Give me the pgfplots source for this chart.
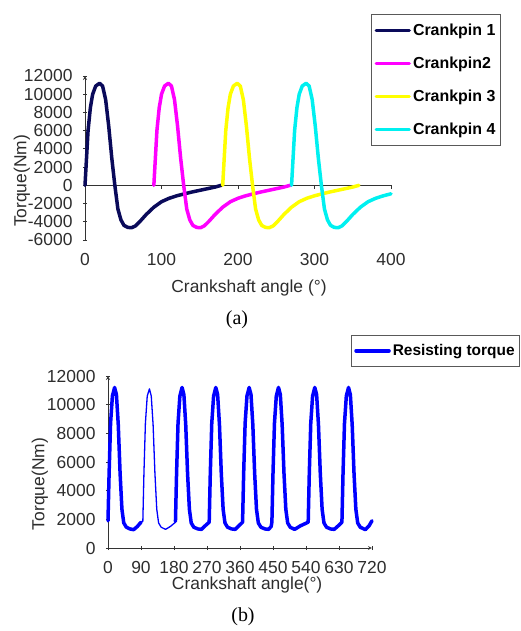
\documentclass[border=0pt]{standalone}
\usepackage{pgfplots}
\pgfplotsset{compat=1.18}
\usepackage{fontspec}
\setmainfont{Liberation Sans}
\newfontfamily\capfont{Liberation Serif}

\definecolor{cpnavy}{RGB}{10,10,90}
\definecolor{cpmag}{RGB}{255,0,255}
\definecolor{cpyel}{RGB}{255,255,0}
\definecolor{cpcyan}{RGB}{0,240,240}
\definecolor{rtblue}{RGB}{0,0,255}
\definecolor{txt}{RGB}{45,45,45}

\pgfplotsset{
  chartbase/.style={
    scale only axis,
    anchor=south west,
    scaled ticks=false,
    /pgf/number format/assume math mode=true,
    /pgf/number format/fixed,
    /pgf/number format/1000 sep={},
    tick label style={font=\fontsize{17.5}{17.5}\selectfont, text=txt},
    yticklabel style={xshift=-7bp},
    xticklabel style={yshift=-8bp},
    label style={font=\fontsize{17.5}{17.5}\selectfont, text=txt},
    axis line style={-, draw=black!80, line width=0.8bp},
    tick style={draw=black!80, line width=0.8bp},
    major tick length=4bp,
    tick align=outside,
    clip=false,
    legend cell align=left,
    legend image code/.code={\draw[#1, line width=3.5bp] (0bp,0bp) -- (33bp,0bp);},
  },
  every axis plot/.append style={line join=round, line cap=round},
}

\begin{document}
\begin{tikzpicture}
\path[use as bounding box] (0,0) rectangle (521bp,631bp);

% ---- (a) torque of each crankpin
\begin{axis}[chartbase,
  at={(85bp,391bp)}, width=306bp, height=164bp,
  xmin=0, xmax=400, ymin=-6000, ymax=12000,
  axis y line=left, axis x line=bottom,
  x axis line style={draw=none}, xtick style={draw=none},
  xtick={0,100,200,300,400},
  ytick={-6000,-4000,-2000,0,2000,4000,6000,8000,10000,12000},
  xlabel={Crankshaft angle (°)}, ylabel={Torque(Nm)},
  xlabel style={at={(axis description cs:0.536,-0.293)}, anchor=center},
  ylabel style={at={(axis description cs:-0.206,0.36)}, anchor=center},
  legend style={at={(0.935,1.375)}, anchor=north west, draw=black!65,
    line width=0.8bp, font=\fontsize{16}{16}\selectfont\bfseries,
    text=black, inner xsep=3bp, inner ysep=7bp, row sep=16bp},
]
\draw[black!80, line width=0.8bp] (axis cs:0,0) -- (axis cs:400,0);
\draw[black!80, line width=0.8bp] (axis cs:100,0) -- (axis cs:100,-450);
\draw[black!80, line width=0.8bp] (axis cs:200,0) -- (axis cs:200,-450);
\draw[black!80, line width=0.8bp] (axis cs:300,0) -- (axis cs:300,-450);
\draw[black!80, line width=0.8bp] (axis cs:400,0) -- (axis cs:400,-450);
\addplot[cpnavy, line width=3.5bp] coordinates {
  (0,0) (2,3000) (4,6000) (7,8500) (10,10000) (14,10900) (19,11200)
  (23,10900) (27,9400) (31,6500) (35,3000) (39,0) (43,-2600) (47,-3800)
  (51,-4400) (56,-4620) (61,-4650) (66,-4450) (72,-3950) (80,-3200)
  (90,-2400) (100,-1800) (110,-1420) (120,-1150) (130,-930) (140,-730)
  (150,-550) (160,-370) (170,-190) (178,0)
};
\addlegendentry{Crankpin 1}
\addplot[cpmag, line width=3.5bp] coordinates {
  (90,0) (92,3000) (94,6000) (97,8500) (100,10000) (104,10900) (109,11200)
  (113,10900) (117,9400) (121,6500) (125,3000) (129,0) (133,-2600) (137,-3800)
  (141,-4400) (146,-4620) (151,-4650) (156,-4450) (162,-3950) (170,-3200)
  (180,-2400) (190,-1800) (200,-1420) (210,-1150) (220,-930) (230,-730)
  (240,-550) (250,-370) (260,-190) (268,0)
};
\addlegendentry{Crankpin2}
\addplot[cpyel, line width=3.5bp] coordinates {
  (180,0) (182,3000) (184,6000) (187,8500) (190,10000) (194,10900) (199,11200)
  (203,10900) (207,9400) (211,6500) (215,3000) (219,0) (223,-2600) (227,-3800)
  (231,-4400) (236,-4620) (241,-4650) (246,-4450) (252,-3950) (260,-3200)
  (270,-2400) (280,-1800) (290,-1420) (300,-1150) (310,-930) (320,-730)
  (330,-550) (340,-370) (350,-190) (358,0)
};
\addlegendentry{Crankpin 3}
\addplot[cpcyan, line width=3.5bp] coordinates {
  (270,0) (272,3000) (274,6000) (277,8500) (280,10000) (284,10900) (289,11200)
  (293,10900) (297,9400) (301,6500) (305,3000) (309,0) (313,-2600) (317,-3800)
  (321,-4400) (326,-4620) (331,-4650) (336,-4450) (342,-3950) (350,-3200)
  (360,-2400) (370,-1800) (380,-1420) (390,-1150) (400,-930)
};
\addlegendentry{Crankpin 4}
\end{axis}

% ---- (b) resisting torque
\begin{axis}[chartbase,
  at={(108bp,83bp)}, width=264bp, height=172bp,
  xmin=0, xmax=720, ymin=0, ymax=12000,
  axis lines=left,
  xtick={0,90,180,270,360,450,540,630,720},
  ytick={0,2000,4000,6000,8000,10000,12000},
  xlabel={Crankshaft angle(°)}, ylabel={Torque(Nm)},
  xlabel style={at={(axis description cs:0.527,-0.215)}, anchor=center},
  ylabel style={at={(axis description cs:-0.258,0.372)}, anchor=center},
  legend style={at={(0.920,1.238)}, anchor=north west, draw=black!65,
    line width=0.8bp, font=\fontsize{15.5}{15.5}\selectfont\bfseries,
    text=black, inner xsep=3bp, inner ysep=7bp},
]
\addplot[rtblue, line width=3.5bp] coordinates {
  (0,1900) (3,5200) (7,8700) (12,10600) (18,11200) (23,10700) (28,8600)
  (33,5200) (38,2700) (43,1750) (50,1450) (60,1330) (70,1280) (80,1500)
  (90,1800)
};
\addlegendentry{Resisting torque}
\addplot[rtblue, line width=1.3bp, forget plot] coordinates {
  (90,1800) (95,1850) (98,5200) (102,8700) (107,10600) (113,11100) (118,10600)
  (123,8600) (128,5200) (133,2700) (138,1750) (145,1450) (157,1300)
  (170,1500) (184,1800)
};
\addplot[rtblue, line width=3.5bp, forget plot] coordinates {
  (184,1850) (187,5200) (191,8700) (196,10600) (202,11200) (207,10700)
  (212,8600) (217,5200) (222,2700) (227,1750) (234,1450) (245,1330)
  (255,1300) (265,1550) (276,1800)
  (279,5200) (283,8700) (288,10600) (294,11200) (299,10700) (304,8600)
  (309,5200) (314,2700) (319,1750) (326,1450) (337,1330) (347,1300)
  (357,1550) (367,1800)
  (370,5200) (374,8700) (379,10600) (385,11200) (390,10700) (395,8600)
  (400,5200) (405,2700) (410,1750) (417,1450) (428,1330) (438,1300)
  (445,1500) (447,1800)
  (450,5200) (454,8700) (459,10600) (465,11200) (470,10700) (475,8600)
  (480,5200) (485,2700) (490,1750) (497,1450) (509,1300) (525,1550)
  (546,1800)
  (549,5200) (553,8700) (558,10600) (564,11200) (569,10700) (574,8600)
  (579,5200) (584,2700) (589,1750) (596,1450) (607,1330) (617,1300)
  (628,1550) (638,1800)
  (641,5200) (645,8700) (650,10600) (656,11200) (661,10700) (666,8600)
  (671,5200) (676,2700) (681,1750) (688,1450) (702,1280) (712,1550)
  (720,1900)
};
\end{axis}

\node[font=\capfont\fontsize{20}{20}\selectfont, text=black] at (237bp,311bp) {(a)};
\node[font=\capfont\fontsize{20}{20}\selectfont, text=black] at (243bp,14bp) {(b)};
\end{tikzpicture}
\end{document}
